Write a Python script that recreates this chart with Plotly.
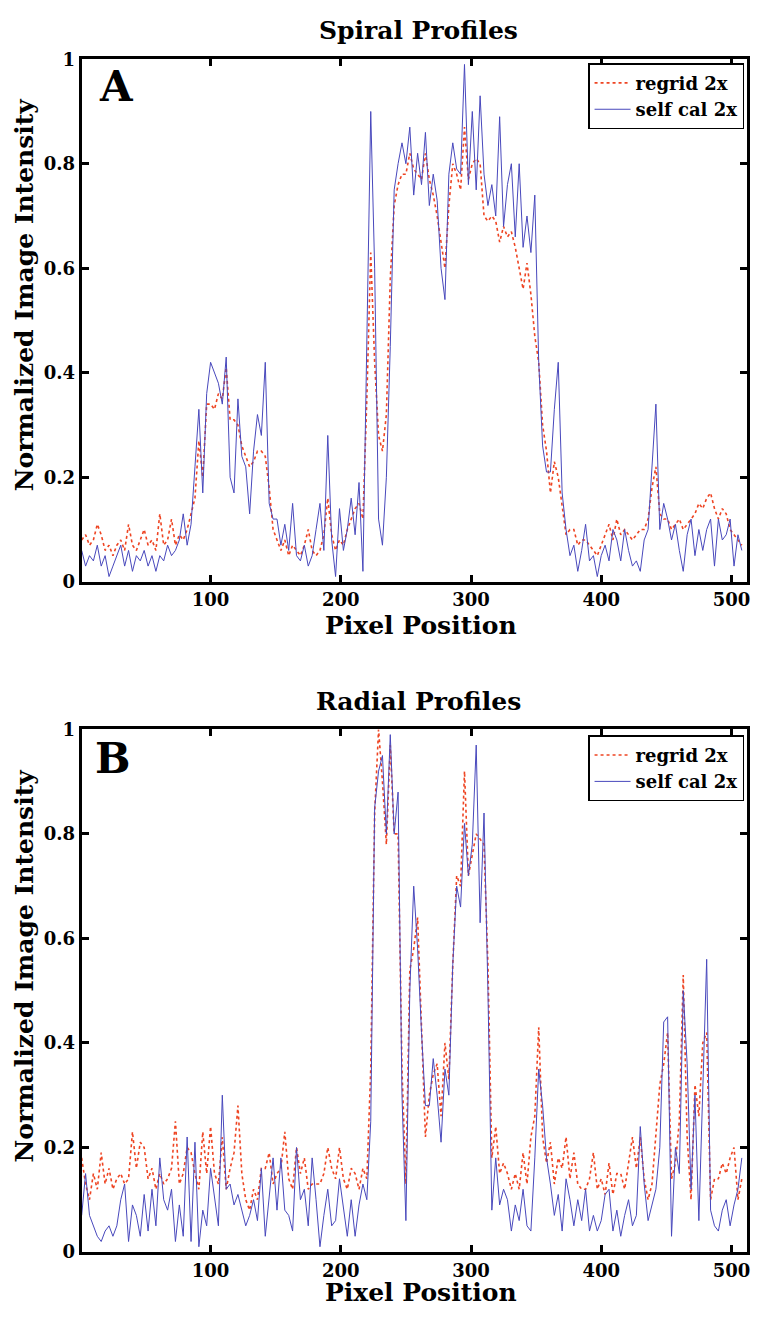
import plotly.graph_objects as go

# Pixel positions sampled along each profile
pixel = list(range(1, 511, 3))

# Spiral trajectory profiles
spiral_regrid = [
    0.08, 0.09, 0.07, 0.08, 0.11, 0.09, 0.06, 0.07, 0.05, 0.07,
    0.08, 0.06, 0.11, 0.07, 0.06, 0.08, 0.10, 0.07, 0.08, 0.06,
    0.13, 0.07, 0.08, 0.12, 0.07, 0.09, 0.08, 0.10, 0.13, 0.16,
    0.27, 0.20, 0.34, 0.34, 0.33, 0.36, 0.35, 0.41, 0.31, 0.31,
    0.30, 0.26, 0.24, 0.22, 0.23, 0.25, 0.25, 0.24, 0.18, 0.10,
    0.08, 0.06, 0.08, 0.05, 0.07, 0.06, 0.05, 0.07, 0.10, 0.06,
    0.05, 0.06, 0.09, 0.16, 0.09, 0.06, 0.08, 0.07, 0.10, 0.12,
    0.14, 0.15, 0.12, 0.35, 0.63, 0.42, 0.28, 0.25, 0.32, 0.58,
    0.72, 0.76, 0.78, 0.78, 0.82, 0.79, 0.78, 0.77, 0.82, 0.77,
    0.74, 0.70, 0.65, 0.60, 0.72, 0.80, 0.78, 0.75, 0.87, 0.77,
    0.80, 0.81, 0.80, 0.70, 0.69, 0.70, 0.69, 0.65, 0.68, 0.66,
    0.67, 0.64, 0.60, 0.56, 0.61, 0.55, 0.47, 0.42, 0.30, 0.25,
    0.17, 0.23, 0.20, 0.14, 0.09, 0.10, 0.10, 0.07, 0.08, 0.08,
    0.07, 0.06, 0.05, 0.07, 0.09, 0.11, 0.08, 0.12, 0.09, 0.10,
    0.09, 0.08, 0.09, 0.10, 0.10, 0.12, 0.18, 0.22, 0.13, 0.12,
    0.12, 0.10, 0.11, 0.12, 0.10, 0.11, 0.12, 0.13, 0.15, 0.14,
    0.16, 0.17, 0.14, 0.12, 0.14, 0.13, 0.10, 0.09, 0.08, 0.07,
]
spiral_selfcal = [
    0.06, 0.03, 0.05, 0.04, 0.07, 0.03, 0.05, 0.01, 0.03, 0.05,
    0.07, 0.03, 0.06, 0.02, 0.05, 0.04, 0.06, 0.03, 0.05, 0.02,
    0.05, 0.04, 0.07, 0.05, 0.06, 0.08, 0.13, 0.07, 0.11, 0.22,
    0.33, 0.17, 0.36, 0.42, 0.40, 0.38, 0.34, 0.43, 0.20, 0.17,
    0.35, 0.24, 0.22, 0.13, 0.25, 0.32, 0.28, 0.42, 0.15, 0.12,
    0.12, 0.07, 0.11, 0.06, 0.15, 0.05, 0.04, 0.07, 0.03, 0.05,
    0.10, 0.15, 0.06, 0.28, 0.08, 0.01, 0.14, 0.06, 0.10, 0.16,
    0.09, 0.19, 0.02, 0.50, 0.90, 0.60, 0.12, 0.07, 0.20, 0.45,
    0.75, 0.80, 0.84, 0.80, 0.87, 0.74, 0.82, 0.76, 0.86, 0.72,
    0.78, 0.73, 0.60, 0.54, 0.78, 0.84, 0.79, 0.78, 0.99, 0.76,
    0.90, 0.75, 0.93, 0.78, 0.72, 0.76, 0.70, 0.89, 0.68, 0.76,
    0.80, 0.66, 0.80, 0.64, 0.70, 0.63, 0.74, 0.42, 0.26, 0.21,
    0.21, 0.33, 0.42, 0.17, 0.10, 0.05, 0.07, 0.02, 0.06, 0.11,
    0.04, 0.05, 0.01, 0.05, 0.07, 0.04, 0.10, 0.08, 0.04, 0.10,
    0.06, 0.03, 0.04, 0.02, 0.08, 0.10, 0.22, 0.34, 0.10, 0.15,
    0.12, 0.08, 0.11, 0.06, 0.02, 0.09, 0.12, 0.05, 0.10, 0.06,
    0.10, 0.12, 0.03, 0.12, 0.08, 0.09, 0.12, 0.03, 0.09, 0.06,
]

# Radial trajectory profiles
radial_regrid = [
    0.18, 0.13, 0.10, 0.15, 0.12, 0.19, 0.13, 0.16, 0.12, 0.14,
    0.15, 0.13, 0.14, 0.23, 0.16, 0.21, 0.20, 0.14, 0.16, 0.12,
    0.15, 0.13, 0.14, 0.16, 0.25, 0.13, 0.15, 0.20, 0.19, 0.15,
    0.12, 0.23, 0.15, 0.24, 0.15, 0.13, 0.22, 0.12, 0.16, 0.19,
    0.28, 0.15, 0.10, 0.08, 0.12, 0.10, 0.16, 0.16, 0.19, 0.13,
    0.15, 0.16, 0.23, 0.14, 0.12, 0.20, 0.15, 0.18, 0.12, 0.13,
    0.13, 0.13, 0.15, 0.20, 0.16, 0.14, 0.20, 0.14, 0.12, 0.16,
    0.15, 0.12, 0.16, 0.14, 0.35, 0.84, 1.00, 0.90, 0.78, 0.97,
    0.80, 0.80, 0.35, 0.13, 0.54, 0.58, 0.64, 0.42, 0.22, 0.30,
    0.34, 0.36, 0.26, 0.40, 0.33, 0.55, 0.72, 0.70, 0.92, 0.72,
    0.76, 0.80, 0.79, 0.78, 0.55, 0.18, 0.24, 0.15, 0.17, 0.15,
    0.12, 0.15, 0.12, 0.19, 0.13, 0.22, 0.26, 0.43, 0.22, 0.17,
    0.21, 0.13, 0.18, 0.16, 0.22, 0.14, 0.19, 0.13, 0.12, 0.12,
    0.14, 0.19, 0.12, 0.14, 0.11, 0.17, 0.11, 0.15, 0.15, 0.12,
    0.17, 0.22, 0.16, 0.22, 0.14, 0.10, 0.13, 0.22, 0.32, 0.36,
    0.42, 0.14, 0.17, 0.25, 0.53, 0.22, 0.10, 0.32, 0.26, 0.40,
    0.42, 0.10, 0.14, 0.14, 0.17, 0.15, 0.18, 0.20, 0.10, 0.14,
]
radial_selfcal = [
    0.07, 0.15, 0.07, 0.05, 0.03, 0.02, 0.04, 0.05, 0.03, 0.05,
    0.10, 0.13, 0.02, 0.09, 0.07, 0.03, 0.11, 0.04, 0.12, 0.05,
    0.18, 0.10, 0.08, 0.12, 0.02, 0.09, 0.03, 0.22, 0.02, 0.21,
    0.01, 0.08, 0.05, 0.16, 0.10, 0.05, 0.30, 0.12, 0.13, 0.09,
    0.11, 0.08, 0.05, 0.07, 0.10, 0.06, 0.16, 0.03, 0.10, 0.18,
    0.08, 0.18, 0.08, 0.07, 0.04, 0.20, 0.10, 0.12, 0.05, 0.18,
    0.10, 0.01, 0.07, 0.12, 0.05, 0.06, 0.14, 0.08, 0.03, 0.10,
    0.03, 0.09, 0.13, 0.10, 0.25, 0.85, 0.92, 0.95, 0.80, 0.99,
    0.80, 0.88, 0.30, 0.06, 0.50, 0.70, 0.58, 0.42, 0.28, 0.28,
    0.37, 0.30, 0.21, 0.35, 0.30, 0.55, 0.70, 0.66, 0.82, 0.72,
    0.78, 0.97, 0.63, 0.84, 0.50, 0.08, 0.18, 0.09, 0.12, 0.10,
    0.04, 0.09, 0.06, 0.12, 0.05, 0.04, 0.18, 0.35, 0.28, 0.18,
    0.13, 0.07, 0.11, 0.04, 0.14, 0.10, 0.05, 0.10, 0.06, 0.12,
    0.04, 0.07, 0.04, 0.06, 0.11, 0.12, 0.04, 0.08, 0.03, 0.07,
    0.10, 0.05, 0.07, 0.24, 0.13, 0.06, 0.09, 0.12, 0.20, 0.44,
    0.45, 0.03, 0.20, 0.15, 0.50, 0.36, 0.12, 0.30, 0.06, 0.33,
    0.56, 0.08, 0.05, 0.04, 0.08, 0.10, 0.05, 0.09, 0.12, 0.18,
]

x_ticks = [100, 200, 300, 400, 500]
y_ticks = [0, 0.2, 0.4, 0.6, 0.8, 1]
y_ticklabels = ["0", "0.2", "0.4", "0.6", "0.8", "1"]
series_names = ["regrid 2x", "self cal 2x"]
panel_titles = ["Spiral Profiles", "Radial Profiles"]
panel_letters = ["A", "B"]

W, H = 762, 1321
SERIF = "DejaVu Serif"
RED = "#ee4422"
BLUE = "#4848bc"


def px_x(p):
    return p / W


def px_y(p):
    return 1 - p / H


fig = go.Figure()

panels = [
    (spiral_regrid, spiral_selfcal, "x", "y", "legend"),
    (radial_regrid, radial_selfcal, "x2", "y2", "legend2"),
]
for regrid, selfcal, xa, ya, lg in panels:
    fig.add_trace(go.Scatter(
        x=pixel, y=regrid, mode="lines", name="<b>%s</b>" % series_names[0],
        line=dict(color=RED, width=1.6, dash="dot"),
        xaxis=xa, yaxis=ya, legend=lg,
    ))
    fig.add_trace(go.Scatter(
        x=pixel, y=selfcal, mode="lines", name="<b>%s</b>" % series_names[1],
        line=dict(color=BLUE, width=1),
        xaxis=xa, yaxis=ya, legend=lg,
    ))

tick_font = dict(family=SERIF, size=18, color="black", weight="bold")
x_dom = [px_x(82), px_x(750)]
y_doms = [[px_y(580), px_y(49)], [px_y(1261), px_y(730)]]

common = dict(
    showline=True, linecolor="black", linewidth=3, mirror="ticks",
    ticks="inside", ticklen=7, tickwidth=2.5, tickcolor="black",
    showgrid=False, zeroline=False, tickfont=tick_font,
)


def xaxis(anchor):
    return dict(common, domain=x_dom, range=[1, 512], tickvals=x_ticks,
                anchor=anchor)


def yaxis(dom, anchor):
    return dict(common, domain=dom, range=[0, 1], tickvals=y_ticks,
                ticktext=y_ticklabels, anchor=anchor)


legend_style = dict(
    xanchor="right", yanchor="top", bgcolor="white",
    bordercolor="black", borderwidth=1.5,
    font=dict(family=SERIF, size=18, color="black", weight="bold"),
    itemwidth=36, tracegroupgap=0,
)

fig.update_layout(
    width=W, height=H,
    margin=dict(l=0, r=0, t=0, b=0),
    paper_bgcolor="white", plot_bgcolor="white",
    xaxis=xaxis("y"), yaxis=yaxis(y_doms[0], "x"),
    xaxis2=xaxis("y2"), yaxis2=yaxis(y_doms[1], "x2"),
    legend=dict(legend_style, x=px_x(747), y=px_y(53)),
    legend2=dict(legend_style, x=px_x(747), y=px_y(736)),
)

title_font = dict(family=SERIF, size=25, color="black", weight="bold")
annotations = []
panel_pos = [
    dict(title_y=20, xlabel_y=624, ylabel_y=288, letter=(117, 77)),
    dict(title_y=702, xlabel_y=1302, ylabel_y=970, letter=(113, 760)),
]
for i, pos in enumerate(panel_pos):
    annotations.append(dict(
        text=panel_titles[i], x=px_x(420), y=px_y(pos["title_y"]),
        xref="paper", yref="paper", showarrow=False, font=title_font,
        xanchor="center", yanchor="middle"))
    annotations.append(dict(
        text="Pixel Position", x=px_x(423), y=px_y(pos["xlabel_y"]),
        xref="paper", yref="paper", showarrow=False, font=title_font,
        xanchor="center", yanchor="middle"))
    annotations.append(dict(
        text="Normalized Image Intensity", x=px_x(25),
        y=px_y(pos["ylabel_y"]), xref="paper", yref="paper",
        showarrow=False, font=title_font, textangle=-90,
        xanchor="center", yanchor="middle"))
    annotations.append(dict(
        text=panel_letters[i], x=px_x(pos["letter"][0]),
        y=px_y(pos["letter"][1]), xref="paper", yref="paper",
        showarrow=False, xanchor="center", yanchor="middle",
        font=dict(family=SERIF, size=42, color="black", weight="bold")))

fig.update_layout(annotations=annotations)

fig.write_html("out.html")
